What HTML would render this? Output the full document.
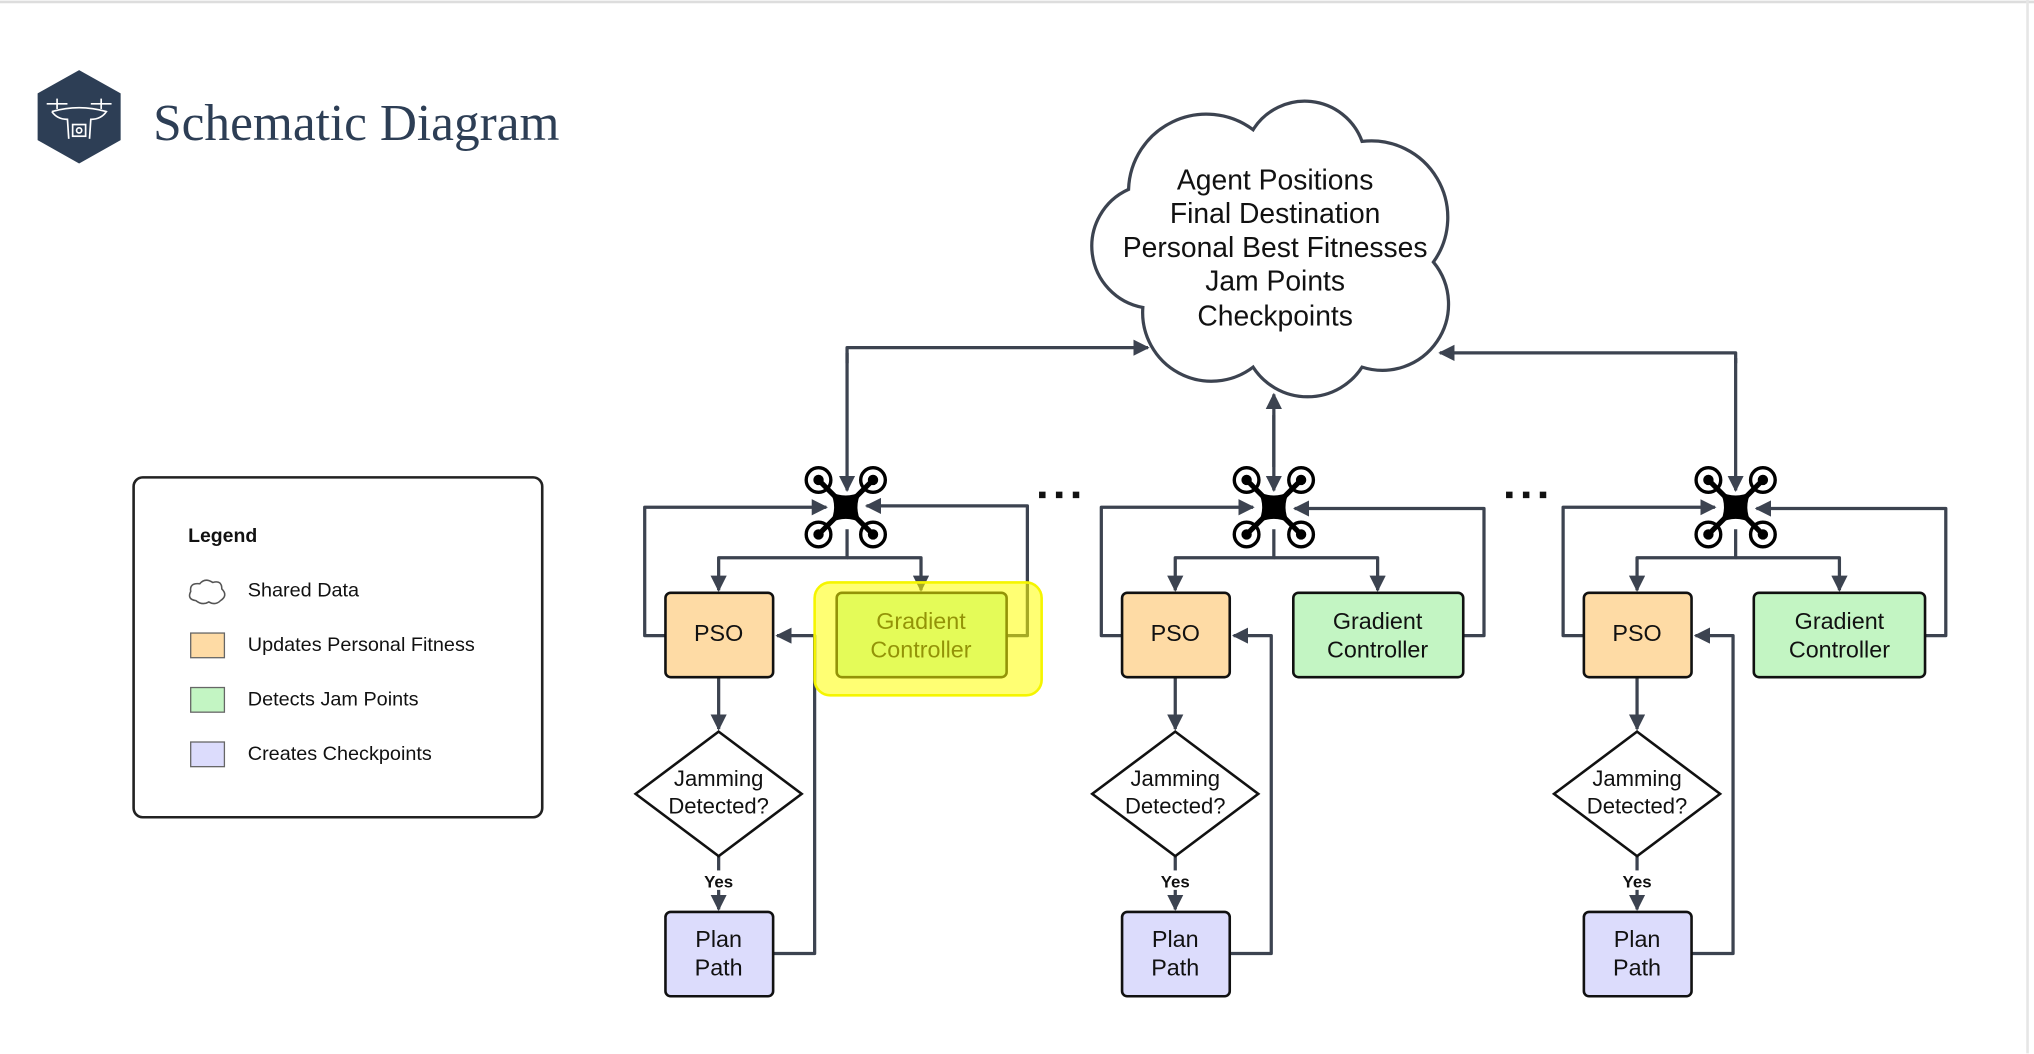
<!DOCTYPE html>
<html><head><meta charset="utf-8"><style>
html,body{margin:0;padding:0;background:#fff;}
svg{display:block;}
text{font-family:"Liberation Sans",sans-serif;}
</style></head><body>
<svg width="2034" height="1054" viewBox="0 0 1568 812.5" xmlns="http://www.w3.org/2000/svg">
<defs>
<marker id="a" viewBox="0 0 10 10" refX="9" refY="5" markerWidth="5" markerHeight="5" orient="auto" markerUnits="strokeWidth"><path d="M0,0 L10,5 L0,10 z" fill="#3c4350"/></marker>
<g id="drone">
  <g fill="none" stroke="#000" stroke-width="2.6">
    <circle cx="-21" cy="-21" r="9.5"/><circle cx="21" cy="-21" r="9.5"/>
    <circle cx="-21" cy="21" r="9.5"/><circle cx="21" cy="21" r="9.5"/>
  </g>
  <g fill="#000"><circle cx="-21" cy="-21" r="4"/><circle cx="21" cy="-21" r="4"/><circle cx="-21" cy="21" r="4"/><circle cx="21" cy="21" r="4"/></g>
  <g stroke="#000" stroke-width="4"><line x1="-21" y1="-21" x2="21" y2="21"/><line x1="21" y1="-21" x2="-21" y2="21"/></g>
  <path d="M-12,-12 Q0,-6 12,-12 Q6,0 12,12 Q0,6 -12,12 Q-6,0 -12,-12z" fill="#000"/>
</g>
</defs>
<rect x="0" y="0" width="1568" height="812.5" fill="#fff"/>
<line x1="0" y1="1.5" x2="1568" y2="1.5" stroke="#ddd" stroke-width="2"/>
<line x1="1563" y1="0" x2="1563" y2="812" stroke="#e6e6e6" stroke-width="2"/>
<!-- header -->
<polygon points="61,54 93,72 93,108 61,126 29,108 29,72" fill="#2d3e55"/>
<g stroke="#fff" stroke-width="1.3" fill="none">
<line x1="36" y1="80" x2="52" y2="80"/><line x1="70" y1="80" x2="86" y2="80"/>
<line x1="44" y1="76" x2="44" y2="84"/><line x1="78" y1="76" x2="78" y2="84"/>
<path d="M40,86 Q61,80 82,86 Q78,92 70,92 L69,107 M40,86 Q44,92 52,92 L53,107"/>
<rect x="56" y="96" width="10" height="9"/><circle cx="61" cy="100.5" r="2"/>
</g>
<text x="118" y="108" style="font-family:'Liberation Serif',serif" font-size="39.6" fill="#2d3e55">Schematic Diagram</text>
<!-- legend -->
<rect x="103" y="368" width="315" height="262" rx="7" fill="#fff" stroke="#222" stroke-width="2"/>
<text x="145" y="418" font-size="15" font-weight="bold" fill="#111">Legend</text>
<path d="M151,463 Q144,462 147,456 Q146,449 154,450 Q158,445 164,449 Q171,447 171,454 Q176,459 170,463 Q166,467 161,464 Q156,467 151,463z" fill="#fff" stroke="#555" stroke-width="1.2"/>
<rect x="147" y="488" width="26" height="19" fill="#fedba5" stroke="#666" stroke-width="1"/>
<rect x="147" y="530" width="26" height="19" fill="#c3f5c3" stroke="#666" stroke-width="1"/>
<rect x="147" y="572" width="26" height="19" fill="#dcdcfc" stroke="#666" stroke-width="1"/>
<g font-size="15.3" fill="#111">
<text x="191" y="460">Shared Data</text>
<text x="191" y="502">Updates Personal Fitness</text>
<text x="191" y="544">Detects Jam Points</text>
<text x="191" y="586">Creates Checkpoints</text>
</g>
<!-- cloud -->
<path d="M870,146 A60 60 0 0 1 966,100 A47 47 0 0 1 1050,109 A59 59 0 0 1 1105,202 A51 51 0 0 1 1050,283 A50 50 0 0 1 966,283 A53 53 0 0 1 881,237 A48 48 0 0 1 870,146 Z" fill="#fff" stroke="#3c4350" stroke-width="2.5"/>
<g font-size="21.8" fill="#111" text-anchor="middle">
<text x="983" y="146">Agent Positions</text>
<text x="983" y="172">Final Destination</text>
<text x="983" y="198">Personal Best Fitnesses</text>
<text x="983" y="224">Jam Points</text>
<text x="983" y="251">Checkpoints</text>
</g>
<!-- connectors -->
<g fill="none" stroke="#3c4350" stroke-width="2.5" stroke-linejoin="round">
<path d="M653,280 L653,268 L885,268" marker-end="url(#a)"/>
<path d="M653,272 L653,378" marker-end="url(#a)"/>
<path d="M982,360 L982,304" marker-end="url(#a)"/>
<path d="M982,320 L982,378" marker-end="url(#a)"/>
<path d="M1338,280 L1338,272 L1110,272" marker-end="url(#a)"/>
<path d="M1338,276 L1338,378" marker-end="url(#a)"/>
<path d="M653,408 L653,430 L554,430 L554,455" marker-end="url(#a)"/>
<path d="M653,430 L710,430 L710,455" marker-end="url(#a)"/>
<path d="M513,490 L497,490 L497,391 L637,391" marker-end="url(#a)"/>
<path d="M776,490 L792,490 L792,390 L668,390" marker-end="url(#a)"/>
<path d="M596,735 L628,735 L628,490 L599,490" marker-end="url(#a)"/>
<path d="M554,522 L554,562" marker-end="url(#a)"/>
<path d="M554,660 L554,701" marker-end="url(#a)"/>
<path d="M982,408 L982,430 L906,430 L906,455" marker-end="url(#a)"/>
<path d="M982,430 L1062,430 L1062,455" marker-end="url(#a)"/>
<path d="M865,490 L849,490 L849,391 L966,391" marker-end="url(#a)"/>
<path d="M1128,490 L1144,490 L1144,392 L998,392" marker-end="url(#a)"/>
<path d="M948,735 L980,735 L980,490 L951,490" marker-end="url(#a)"/>
<path d="M906,522 L906,562" marker-end="url(#a)"/>
<path d="M906,660 L906,701" marker-end="url(#a)"/>
<path d="M1338,408 L1338,430 L1262,430 L1262,455" marker-end="url(#a)"/>
<path d="M1338,430 L1418,430 L1418,455" marker-end="url(#a)"/>
<path d="M1221,490 L1205,490 L1205,391 L1322,391" marker-end="url(#a)"/>
<path d="M1484,490 L1500,490 L1500,392 L1354,392" marker-end="url(#a)"/>
<path d="M1304,735 L1336,735 L1336,490 L1307,490" marker-end="url(#a)"/>
<path d="M1262,522 L1262,562" marker-end="url(#a)"/>
<path d="M1262,660 L1262,701" marker-end="url(#a)"/>
</g>
<!-- drones -->
<use href="#drone" x="652" y="391"/>
<use href="#drone" x="982" y="391"/>
<use href="#drone" x="1338" y="391"/>
<g fill="#111"><rect x="801" y="379" width="5" height="5"/><rect x="814" y="379" width="5" height="5"/><rect x="827" y="379" width="5" height="5"/>
<rect x="1161" y="379" width="5" height="5"/><rect x="1174" y="379" width="5" height="5"/><rect x="1187" y="379" width="5" height="5"/></g>
<!-- nodes -->
<g stroke="#111" stroke-width="2">
<rect x="513" y="457" width="83" height="65" rx="4" fill="#fedba5"/>
<rect x="645" y="457" width="131" height="65" rx="4" fill="#c3f5c3"/>
<rect x="865" y="457" width="83" height="65" rx="4" fill="#fedba5"/>
<rect x="997" y="457" width="131" height="65" rx="4" fill="#c3f5c3"/>
<rect x="1221" y="457" width="83" height="65" rx="4" fill="#fedba5"/>
<rect x="1352" y="457" width="132" height="65" rx="4" fill="#c3f5c3"/>
<rect x="513" y="703" width="83" height="65" rx="4" fill="#dcdcfc"/>
<rect x="865" y="703" width="83" height="65" rx="4" fill="#dcdcfc"/>
<rect x="1221" y="703" width="83" height="65" rx="4" fill="#dcdcfc"/>
<polygon points="554,564 618,612 554,660 490,612" fill="#fff"/>
<polygon points="906,564 970,612 906,660 842,612" fill="#fff"/>
<polygon points="1262,564 1326,612 1262,660 1198,612" fill="#fff"/>
</g>
<g font-size="18" fill="#111" text-anchor="middle">
<text x="554" y="494">PSO</text><text x="906" y="494">PSO</text><text x="1262" y="494">PSO</text>
<text x="710" y="485">Gradient</text><text x="710" y="507">Controller</text>
<text x="1062" y="485">Gradient</text><text x="1062" y="507">Controller</text>
<text x="1418" y="485">Gradient</text><text x="1418" y="507">Controller</text>
<text x="554" y="730">Plan</text><text x="554" y="752">Path</text>
<text x="906" y="730">Plan</text><text x="906" y="752">Path</text>
<text x="1262" y="730">Plan</text><text x="1262" y="752">Path</text>
<g font-size="17">
<text x="554" y="606">Jamming</text><text x="554" y="627">Detected?</text>
<text x="906" y="606">Jamming</text><text x="906" y="627">Detected?</text>
<text x="1262" y="606">Jamming</text><text x="1262" y="627">Detected?</text>
</g>
</g>
<g font-size="13" font-weight="bold" fill="#111" text-anchor="middle">
<rect x="540" y="671" width="28" height="15" fill="#fff"/><text x="554" y="684">Yes</text>
<rect x="892" y="671" width="28" height="15" fill="#fff"/><text x="906" y="684">Yes</text>
<rect x="1248" y="671" width="28" height="15" fill="#fff"/><text x="1262" y="684">Yes</text>
</g>
<!-- highlight -->
<rect x="628" y="449" width="175" height="87" rx="12" fill="#ffff00" fill-opacity="0.55" stroke="#f5f500" stroke-width="2"/>
</svg>
</body></html>
